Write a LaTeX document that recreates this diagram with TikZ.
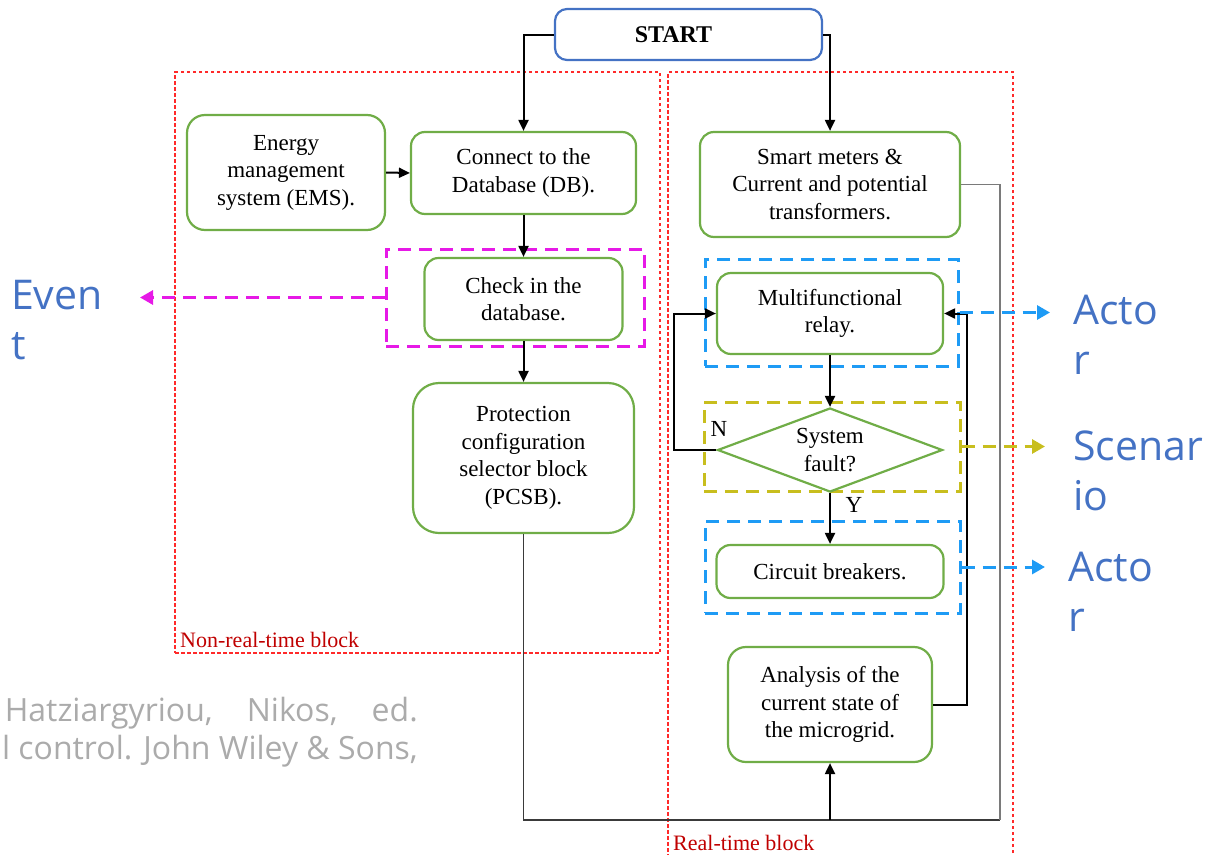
\documentclass[tikz,border=0pt]{standalone}
\usepackage{fontspec}
\setmainfont{Liberation Serif}
\newfontfamily\opensans{Open Sans}
\usetikzlibrary{arrows.meta,shapes.geometric}

\definecolor{boxgreen}{HTML}{70AD47}
\definecolor{startblue}{HTML}{4472C4}
\definecolor{blockred}{HTML}{FF2A2A}
\definecolor{labelred}{HTML}{C00000}
\definecolor{actblue}{HTML}{1E9BF5}
\definecolor{scenyellow}{HTML}{C8BE1E}
\definecolor{evmag}{HTML}{E619E6}
\definecolor{bigblue}{HTML}{4472C4}
\definecolor{citegray}{HTML}{ABABAB}
\definecolor{wiregray}{HTML}{3A3A3A}
\definecolor{wirelight}{HTML}{7A7A7A}

\begin{document}
\begin{tikzpicture}[x=1pt,y=-1pt,
  txt/.style={font=\fontsize{23}{27.5}\selectfont, align=center},
  stepbox/.style={draw=boxgreen, line width=2.2pt, rounded corners=14pt,
    fill=white, inner sep=0pt, txt},
  decision/.style={draw=boxgreen, line width=2.2pt, diamond, shape aspect=2.68,
    fill=white, inner sep=0pt, txt},
  blockbox/.style={draw=blockred, line width=1.2pt, dash pattern=on 3.5pt off 2.5pt,
    inner sep=0pt},
  roleframe/.style={draw=#1, line width=3pt, dash pattern=on 13pt off 8pt, inner sep=0pt},
  rolearrow/.style={draw=#1, line width=3pt, dash pattern=on 13pt off 8pt,
    -{Triangle[length=13pt,width=14pt,fill=#1]}},
  arr/.style={line width=2pt, -{Triangle[length=11pt,width=10pt]}},
  wire/.style={line width=1.4pt, draw=wiregray},
  rolelabel/.style={font=\opensans\fontsize{41}{50}\selectfont, text=bigblue,
    align=left, inner sep=0pt, anchor=north west},
  blocklabel/.style={font=\fontsize{22}{28}\selectfont, text=labelred,
    inner sep=0pt, anchor=base west},
]
\useasboundingbox (0,0) rectangle (1209,854);

% execution blocks
\node[blockbox, minimum width=485, minimum height=581] (nrt) at (417.5,362.5) {};
\node[blockbox, minimum width=345, minimum height=820] (rt) at (840.5,482) {};
\node[blocklabel] (nrtlabel) at (180,647) {Non-real-time block};
\node[blocklabel] (rtlabel) at (673,850) {Real-time block};

% role frames
\node[roleframe=evmag, minimum width=258, minimum height=97] (evframe) at (515,297.5) {};
\node[roleframe=actblue, minimum width=253, minimum height=107] (actframeA) at (831.5,312.5) {};
\node[roleframe=scenyellow, minimum width=256, minimum height=89] (scframe) at (832,446.5) {};
\node[roleframe=actblue, minimum width=255, minimum height=92] (actframeB) at (832.5,567) {};

% process steps
\node[stepbox, draw=startblue, rounded corners=12pt, minimum width=267, minimum height=51,
  font=\fontsize{24}{28}\selectfont]
  (start) at (688.5,34.5) {\textbf{START}\hspace*{30pt}};
\node[stepbox, rounded corners=18pt, minimum width=198, minimum height=115]
  (ems) at (286,172.5) {Energy\\management\\system (EMS).};
\node[stepbox, minimum width=225, minimum height=82]
  (db) at (523.5,173) {Connect to the\\Database (DB).};
\node[stepbox, minimum width=260, minimum height=105]
  (sm) at (830,184.5) {Smart meters \&\\Current and potential\\transformers.};
\node[stepbox, minimum width=198, minimum height=82]
  (chk) at (523.5,299) {Check in the\\database.};
\node[stepbox, rounded corners=26pt, minimum width=221, minimum height=150]
  (pcsb) at (523.5,458) {Protection\\configuration\\selector block\\(PCSB).};
\node[stepbox, minimum width=226, minimum height=81]
  (relay) at (830,313.5) {Multifunctional\\relay.};
\node[decision, minimum width=225, minimum height=84]
  (fault) at (830,450) {System\\fault?};
\node[stepbox, minimum width=227, minimum height=53]
  (cb) at (830,571.5) {Circuit breakers.};
\node[stepbox, rounded corners=18pt, minimum width=204, minimum height=115]
  (an) at (830,704.5) {Analysis of the\\current state of\\the microgrid.};

% branch labels
\node[txt, inner sep=0pt] (nlabel) at (719,429) {N};
\node[txt, inner sep=0pt] (ylabel) at (854,505) {Y};

% helper points of the routed connectors
\coordinate (busend) at (1000,820);
\coordinate (feedback) at (967,313.5);
\coordinate (noloop) at (674,313.5);
\coordinate (evtip) at (140,297.5);
\coordinate (acttipA) at (1050,312.5);
\coordinate (sctip) at (1045,446.5);
\coordinate (acttipB) at (1045,567);

% connectors
\draw[arr] (start.west) -| (db.north);
\draw[arr] (start.east) -| (sm.north);
\draw[arr] (ems.east) -- (db.west);
\draw[arr] (db.south) -- (chk.north);
\draw[arr] (chk.south) -- (pcsb.north);
\draw[wire] (pcsb.south) |- (busend);
\draw[wire, draw=wirelight] (sm.east) -| (busend);
\draw[arr] (an.south |- busend) -- (an.south);
\draw[arr] (an.east) -| (feedback) -- (relay.east);
\draw[arr] (relay.south) -- (fault.north);
\draw[arr] (fault.west) -| (noloop) -- (relay.west);
\draw[arr] (fault.south) -- (cb.north);

% role pointers
\draw[rolearrow=evmag] (evframe.west) -- (evtip);
\draw[rolearrow=actblue] (actframeA.east) -- (acttipA);
\draw[rolearrow=scenyellow] (scframe.east) -- (sctip);
\draw[rolearrow=actblue] (actframeB.east) -- (acttipB);

\node[rolelabel] (evlabel) at (11,280) {Even\\t};
\node[rolelabel] (actlabelA) at (1073,295) {Acto\\r};
\node[rolelabel] (sclabel) at (1073,431) {Scenar\\io};
\node[rolelabel] (actlabelB) at (1068,552) {Acto\\r};

% reference note
\node[font=\opensans\fontsize{32}{38}\selectfont, text=citegray, align=right,
  inner sep=0pt, anchor=north east] (cite) at (418,697)
  {\makebox[413pt][s]{Hatziargyriou, Nikos, ed.}\\l control. John Wiley \& Sons,};
\end{tikzpicture}
\end{document}
